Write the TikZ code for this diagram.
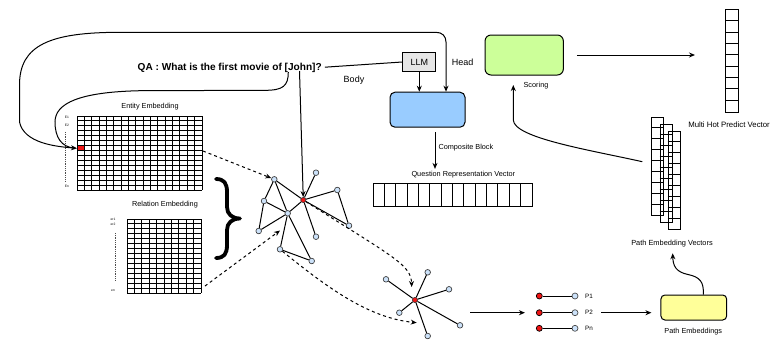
\documentclass[tikz,border=0pt]{standalone}
\usepackage{fontspec}
\setmainfont{Liberation Sans}
\usetikzlibrary{arrows.meta,calc}
\definecolor{gblue}{RGB}{204,226,250}
\definecolor{bodyblue}{RGB}{153,204,255}
\definecolor{scoregreen}{RGB}{204,255,153}
\definecolor{pembyellow}{RGB}{255,255,153}
\definecolor{llmgray}{RGB}{230,230,230}
\definecolor{redfill}{RGB}{240,20,20}
\begin{document}
\begin{tikzpicture}[x=1pt,y=1pt,>={Stealth[length=6pt,width=5pt]}]
\tikzset{
  conn/.style={line width=1pt},
  dconn/.style={line width=1pt,dash pattern=on 3pt off 3pt},
  gridline/.style={line width=0.9pt},
  dotline/.style={line width=0.4pt,black!70,dash pattern=on 0.6pt off 1.2pt},
  lbl/.style={font=\fontsize{7.3}{8.5}\selectfont,inner sep=0pt},
  smalllbl/.style={font=\fontsize{6.3}{7}\selectfont,inner sep=0pt},
  tinylbl/.style={font=\fontsize{3.3}{4}\selectfont,inner sep=0pt},
  midlbl/.style={font=\fontsize{9}{10}\selectfont,inner sep=0pt},
  gn/.style={circle,draw=black!75,fill=gblue,line width=0.7pt,minimum size=5.6pt,inner sep=0pt},
  rn/.style={circle,draw=black!80,fill=redfill,line width=0.6pt,minimum size=5.2pt,inner sep=0pt},
  pr/.style={circle,draw=black,fill=redfill,line width=0.7pt,minimum size=6pt,inner sep=0pt},
  pb/.style={circle,draw=black!70,fill=gblue,line width=0.7pt,minimum size=6pt,inner sep=0pt},
  blockbox/.style={draw=black,line width=1pt,rounded corners=5pt,inner sep=0pt},
  vecbox/.style={draw=black,line width=1pt,inner sep=0pt,anchor=north west},
}
\useasboundingbox (0,0) rectangle (774,-341);

% ---------- Entity embedding grid (17 x 15)
\node[fill=redfill,inner sep=0pt,minimum width=7.35pt,minimum height=4.93pt,anchor=north west] (redcell) at (77,{-116-6*74/15}) {};
\foreach \i in {0,...,17} \draw[gridline] ({77+\i*125/17},-116) -- ++(0,-74);
\foreach \j in {0,...,15} \draw[gridline] (77,{-116-\j*74/15}) -- ++(125,0);
\node[lbl] (entlab) at (150,-107) {Entity Embedding};
\node[tinylbl] (e1) at (67,-117) {E1};
\node[tinylbl] (e2) at (67,-125) {E2};
\node[tinylbl] (en) at (67,-186) {En};
\draw[dotline] (65.5,-132) -- (65.5,-181);

% ---------- Relation embedding grid (10 x 15)
\foreach \i in {0,...,10} \draw[gridline] ({127+\i*7.4},-219) -- ++(0,-74);
\foreach \j in {0,...,15} \draw[gridline] (127,{-219-\j*74/15}) -- ++(74,0);
\node[lbl] (rellab) at (165,-205) {Relation Embedding};
\node[tinylbl] (r1) at (113,-219.3) {er1};
\node[tinylbl] (r2) at (113,-224.5) {er2};
\node[tinylbl] (rn) at (113,-291) {en};
\draw[dotline] (115,-233) -- (115,-281);

% ---------- Brace
\draw[line width=3.8pt,line cap=round,line join=round]
  (216,-179) .. controls (224,-179) and (227,-183) .. (227,-192) -- (227,-207)
  .. controls (227,-214) and (232,-218.5) .. (240,-218.5)
  .. controls (232,-218.5) and (227,-223) .. (227,-230) -- (227,-245)
  .. controls (227,-254) and (224,-258) .. (216,-258);

% ---------- Question, LLM, body
\node[font=\fontsize{10.1}{12}\selectfont\bfseries,inner sep=0pt,anchor=base] (q) at (229.7,-70) {QA : What is the first movie of [John]?};
\node[draw,fill=llmgray,line width=1pt,minimum width=33.3pt,minimum height=19.4pt,inner sep=0pt,font=\fontsize{9}{10}\selectfont] (llm) at (419.3,-62) {LLM};
\node[blockbox,fill=bodyblue,minimum width=75pt,minimum height=35pt] (body) at (427.5,-109.7) {};
\node[midlbl] (bodylab) at (354,-80) {Body};
\node[midlbl] (headlab) at (462.7,-62.7) {Head};
\draw[conn,shorten <=3pt] (q.east) -- (llm.west);
\draw[conn,->] (llm.south) -- (llm.south |- body.north);
\coordinate (headin) at ($(body.north)+(18.5,0)$);
\draw[conn,<->] (redcell.west) .. controls (55,-146.5) and (24,-143) .. (19.5,-122) -- (19.5,-85)
  .. controls (19.5,-45) and (50,-32.3) .. (120,-32.3) -- (436,-32.3)
  .. controls (442,-32.3) and (446,-36) .. (446,-42) -- (headin);
\coordinate (johnpt) at (288.3,-72);
\draw[conn,shorten >=3pt] (johnpt) .. controls (288.3,-86) and (283,-90.3) .. (265,-90.3) -- (140,-90.7)
  .. controls (80,-92) and (55,-103) .. (55,-122) .. controls (55,-138) and (62,-147) .. (redcell.west);

% ---------- Question representation vector
\coordinate (cbx) at (435,0);
\node[lbl] (qrvlab) at (463.3,-175) {Question Representation Vector};
\node[vecbox,minimum width=158.4pt,minimum height=22.4pt] (qrv) at (373.3,-183.3) {};
\foreach \i in {1,...,13} \draw[gridline] ({373.3+\i*158.4/14},-183.3) -- ++(0,-22.4);
\draw[conn,->,shorten <=4.5pt,shorten >=2.5pt] (body.south -| cbx) -- (qrvlab.north -| cbx);
\node[lbl,anchor=west] (cblab) at (438.3,-147.3) {Composite Block};

% ---------- Graph 1
\node[gn] (A) at (274.3,-179.3) {};
\node[gn] (B) at (316,-172.7) {};
\node[gn] (C) at (264,-201) {};
\node[rn] (R) at (303.3,-200) {};
\node[gn] (D) at (337.3,-190) {};
\node[gn] (E) at (287.7,-213.3) {};
\node[gn] (F) at (258.7,-231) {};
\node[gn] (G) at (349,-225.7) {};
\node[gn] (H) at (316,-236.7) {};
\node[gn] (I) at (280,-249.3) {};
\node[gn] (J) at (311.7,-261) {};
\foreach \u/\v in {A/R,A/C,A/E,C/E,C/F,E/F,E/R,R/B,R/D,D/G,R/G,R/H,E/I,I/J,E/J}
  \draw[conn] (\u) -- (\v);
\coordinate (qdown) at (299.5,-71);
\draw[conn,->] (qdown) -- (R);
\coordinate (entout) at (203,-151);
\draw[dconn,->] (entout) -- (A);
\coordinate (relout) at (205,-286);
\coordinate (g1in) at (280,-230.5);
\draw[dconn,->] (relout) -- (g1in);

% ---------- Graph 2
\node[rn] (R2) at (415,-300) {};
\node[gn] (a) at (386,-279.3) {};
\node[gn] (b) at (427.7,-272.3) {};
\node[gn] (c) at (449,-289.3) {};
\node[gn] (d) at (399.3,-312.7) {};
\node[gn] (e) at (460,-325.3) {};
\node[gn] (f) at (427.7,-336) {};
\foreach \v in {a,b,c,d,e,f} \draw[conn] (R2) -- (\v);
\coordinate (g2inA) at (411.7,-287);
\draw[dconn,->] (R) .. controls (395,-258) and (411,-265) .. (g2inA);
\coordinate (g2inB) at (416.7,-322.7);
\draw[dconn,->] (I) .. controls (330,-290) and (370,-318) .. (g2inB);

% ---------- Paths
\node[pr] (p1r) at (539.3,-296) {};
\node[pb] (p1b) at (575,-296) {};
\node[pr] (p2r) at (539.3,-312.7) {};
\node[pb] (p2b) at (575,-312.7) {};
\node[pr] (p3r) at (539.3,-328.3) {};
\node[pb] (p3b) at (575,-328.3) {};
\draw[conn] (p1r) -- (p1b);
\draw[conn] (p2r) -- (p2b);
\draw[conn] (p3r) -- (p3b);
\node[smalllbl,anchor=west] (p1l) at (585,-296) {P1};
\node[smalllbl,anchor=west] (p2l) at (585,-312.7) {P2};
\node[smalllbl,anchor=west] (p3l) at (585,-328.3) {Pn};
\coordinate (g2out) at (470,-312.7);
\draw[conn,->,shorten >=11pt] (g2out) -- (p2r);

% ---------- Path embeddings
\node[blockbox,fill=pembyellow,rounded corners=4pt,minimum width=65.7pt,minimum height=25pt] (pemb) at (693.8,-307.5) {};
\node[lbl] (pemblab) at (693.3,-331.7) {Path Embeddings};
\draw[conn,shorten <=8pt,shorten >=9pt,->] (p2l.east) -- (p2l.east -| pemb.west);

% ---------- Path embedding vectors
\foreach \k/\x/\y in {1/651/-117,2/659.5/-124,3/667.5/-131}{
  \node[vecbox,minimum width=12pt,minimum height=98pt] (pv\k) at (\x,\y) {};
  \foreach \j in {1,...,8} \draw[gridline] (\x,{\y-\j*98/9}) -- ++(12,0);
}
\node[font=\fontsize{7.4}{8.5}\selectfont,inner sep=0pt] (pvlab) at (672,-243.3) {Path Embedding Vectors};
\coordinate (pembtop) at ($(pemb.north)+(9.5,0)$);
\coordinate (vecin) at (672.7,-253.3);
\draw[conn,->] (pembtop) .. controls (704,-282) and (700,-277) .. (688,-274.5)
  .. controls (676,-272) and (673,-266) .. (vecin);

% ---------- Scoring
\node[blockbox,fill=scoregreen,rounded corners=6pt,minimum width=78.3pt,minimum height=40pt] (score) at (524.2,-55) {};
\node[lbl] (scorelab) at (536,-86) {Scoring};
\coordinate (vecout) at (642.3,-161.7);
\coordinate (scorein) at (513.3,-85);
\draw[conn,->] (vecout) .. controls (590,-150) and (514,-138) .. (513.3,-120) -- (scorein);

% ---------- Multi hot predict vector
\node[vecbox,minimum width=12.7pt,minimum height=102.4pt] (mh) at (725,-9.3) {};
\foreach \j in {1,...,8} \draw[gridline] (725,{-9.3-\j*102.4/9}) -- ++(12.7,0);
\node[font=\fontsize{7.8}{9}\selectfont,inner sep=0pt] (mhlab) at (729,-125) {Multi Hot Predict Vector};
\draw[conn,->,shorten <=13pt,shorten >=30pt] (score.east) -- (score.east -| mh.west);
\end{tikzpicture}
\end{document}
